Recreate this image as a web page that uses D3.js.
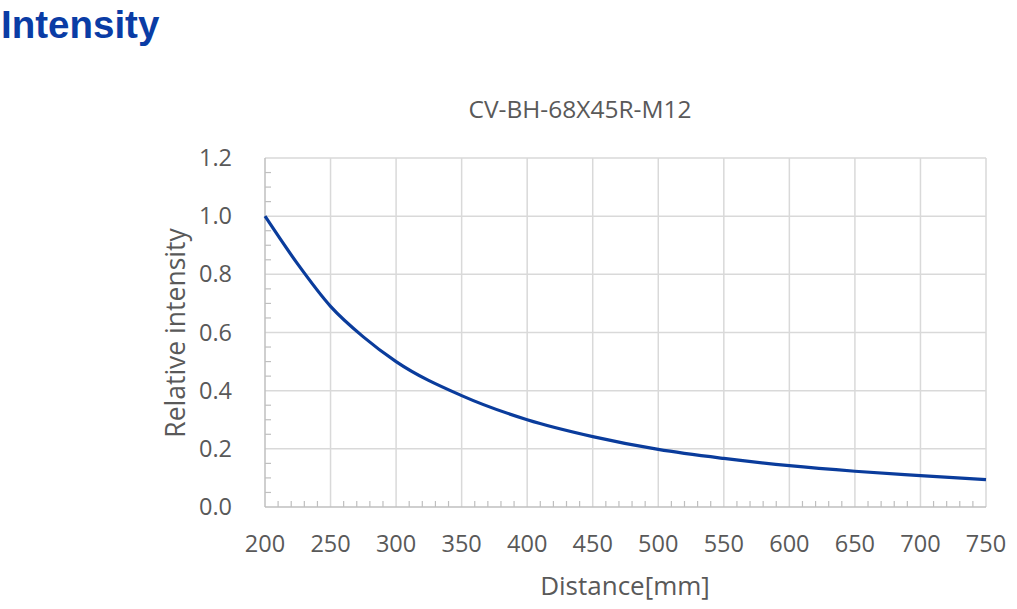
<!DOCTYPE html>
<html><head><meta charset="utf-8">
<script src="https://cdn.jsdelivr.net/npm/d3@7"></script>
<style>body{margin:0;background:#fff}svg{display:block}</style>
</head><body>
<svg id="c" width="1017" height="609"></svg>
<script>
const distance = [200, 225, 250, 275, 300, 350, 400, 450, 500, 550, 600, 650, 700, 750];
const intensity = [1.0, 0.835, 0.69, 0.585, 0.50, 0.383, 0.30, 0.242, 0.198, 0.167, 0.142, 0.123, 0.108, 0.094];
const xTicks = [200, 250, 300, 350, 400, 450, 500, 550, 600, 650, 700, 750];
const yTicks = [0, 0.2, 0.4, 0.6, 0.8, 1.0, 1.2];
const pageTitle = "Intensity";
const chartTitle = "CV-BH-68X45R-M12";
const xLabel = "Distance[mm]";
const yLabel = "Relative intensity";

const svg = d3.select("#c");
const L = 265, R = 986, T = 158, B = 507;
const x = d3.scaleLinear().domain([200, 750]).range([L, R]);
const y = d3.scaleLinear().domain([0, 1.2]).range([B, T]);
const txt = "#595959", grid = "#d9d9d9", font = "'Open Sans', sans-serif";

svg.append("text").attr("x", 1).attr("y", 38).text(pageTitle)
  .attr("font-family", "'Liberation Sans', Arial, sans-serif").attr("font-weight", "bold")
  .attr("font-size", 38.5).attr("fill", "#0a3ca5");

svg.append("text").attr("x", 580).attr("y", 118).attr("text-anchor", "middle").text(chartTitle)
  .attr("font-family", font).attr("font-size", 24.5).attr("fill", txt);

// gridlines
const g = svg.append("g");
g.selectAll(".vg").data(xTicks.slice(1)).join("line")
  .attr("x1", d => x(d)).attr("x2", d => x(d)).attr("y1", T).attr("y2", B)
  .attr("stroke", grid).attr("stroke-width", 1.5);
g.selectAll(".hg").data(yTicks.slice(1)).join("line")
  .attr("x1", L).attr("x2", R).attr("y1", d => y(d)).attr("y2", d => y(d))
  .attr("stroke", grid).attr("stroke-width", 1.5);

// minor ticks
const axisCol = "#bfbfbf";
const xMinor = d3.range(200, 751, 10).filter(d => d % 50 !== 0);
g.selectAll(".xm").data(xMinor).join("line")
  .attr("x1", d => x(d)).attr("x2", d => x(d)).attr("y1", B).attr("y2", B - 6)
  .attr("stroke", axisCol).attr("stroke-width", 1.2);
const yMinor = d3.range(0, 24).map(i => i * 0.05).filter((d, i) => i % 4 !== 0);
g.selectAll(".ym").data(yMinor).join("line")
  .attr("x1", L).attr("x2", L + 6).attr("y1", d => y(d)).attr("y2", d => y(d))
  .attr("stroke", axisCol).attr("stroke-width", 1.2);

// axis lines
g.append("line").attr("x1", L).attr("x2", L).attr("y1", T).attr("y2", B).attr("stroke", axisCol).attr("stroke-width", 1.5);
g.append("line").attr("x1", L).attr("x2", R).attr("y1", B).attr("y2", B).attr("stroke", axisCol).attr("stroke-width", 1.5);

// tick labels
svg.selectAll(".xl").data(xTicks).join("text")
  .attr("x", d => x(d)).attr("y", 552).attr("text-anchor", "middle")
  .attr("font-family", font).attr("font-size", 23.5).attr("fill", txt).text(d => d);
svg.selectAll(".yl").data(yTicks).join("text")
  .attr("x", 232).attr("y", d => y(d) + 8).attr("text-anchor", "end")
  .attr("font-family", font).attr("font-size", 23.5).attr("fill", txt).text(d => d.toFixed(1));

svg.append("text").attr("x", 625).attr("y", 595).attr("text-anchor", "middle").text(xLabel)
  .attr("font-family", font).attr("font-size", 26).attr("fill", txt);
svg.append("text").attr("transform", "translate(185,333) rotate(-90)").attr("text-anchor", "middle").text(yLabel)
  .attr("font-family", font).attr("font-size", 26.5).attr("fill", txt);

// line
const data = distance.map((d, i) => [d, intensity[i]]);
svg.append("path").datum(data)
  .attr("d", d3.line().x(d => x(d[0])).y(d => y(d[1])).curve(d3.curveMonotoneX))
  .attr("fill", "none").attr("stroke", "#0a3c9c").attr("stroke-width", 3.2);
</script>
</body></html>
